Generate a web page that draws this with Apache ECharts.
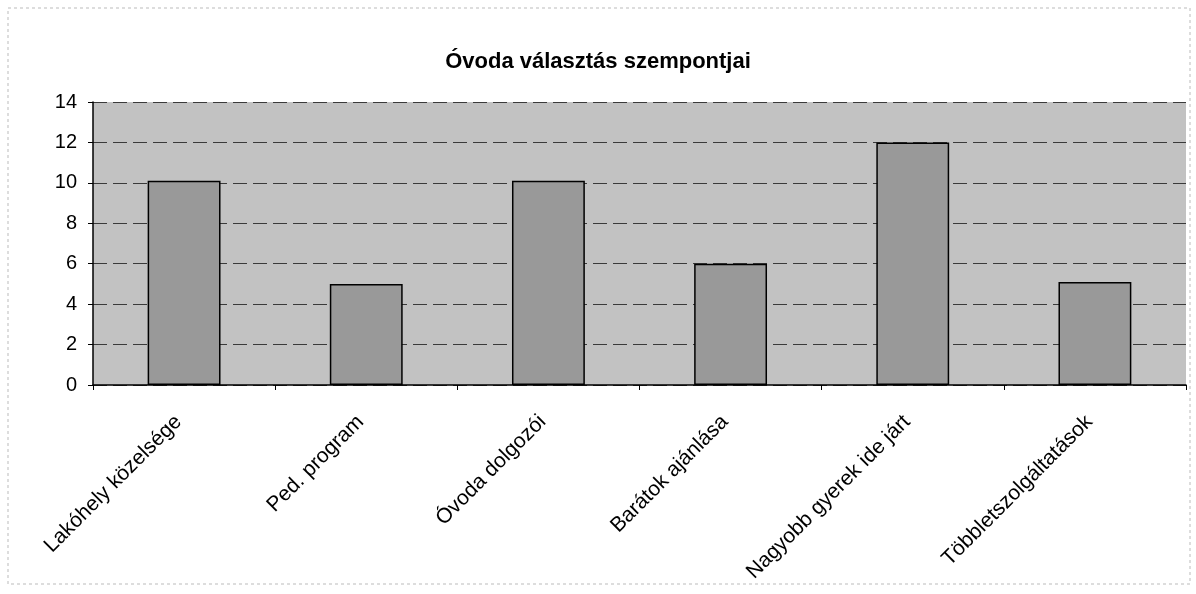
<!DOCTYPE html>
<html>
<head>
<meta charset="utf-8">
<script src="https://cdn.jsdelivr.net/npm/echarts@6/dist/echarts.min.js"></script>
<style>
html,body{margin:0;padding:0;background:#fff;}
#c{width:1196px;height:594px;}
</style>
</head>
<body>
<div id="c"></div>
<script>
const titleText = 'Óvoda választás szempontjai';
const categories = ['Lakóhely közelsége', 'Ped. program', 'Óvoda dolgozói', 'Barátok ajánlása', 'Nagyobb gyerek ide járt', 'Többletszolgáltatások'];
const values = [10.1, 5, 10.1, 6, 12, 5.1];
const yTicks = { min: 0, max: 14, interval: 2 };

const chart = echarts.init(document.getElementById('c'), null, { renderer: 'canvas' });
chart.setOption({
  animation: false,
  backgroundColor: '#ffffff',
  title: {
    text: titleText,
    left: 'center',
    top: 46,
    textStyle: { fontFamily: 'Liberation Sans, Arial, sans-serif', fontWeight: 'bold', fontSize: 22, color: '#000' }
  },
  graphic: [{
    type: 'rect',
    shape: { x: 8, y: 8, width: 1182, height: 576 },
    style: { fill: 'none', stroke: '#bbbbbb', lineWidth: 1, lineDash: [3, 3] },
    silent: true
  }],
  grid: { left: 93, right: 10, top: 102, bottom: 209, containLabel: false,
          show: true, backgroundColor: '#c2c2c2', borderWidth: 0 },
  xAxis: {
    type: 'category',
    data: categories,
    axisLine: { show: true, lineStyle: { color: '#000', width: 1.5 } },
    axisTick: { show: true, alignWithLabel: false, length: 5, lineStyle: { color: '#000' } },
    axisLabel: { rotate: 45, margin: 28, interval: 0, color: '#000', fontSize: 21,
                 padding: [0, 8, 0, 0],
                 fontFamily: 'Liberation Sans, Arial, sans-serif' },
    splitLine: { show: false }
  },
  yAxis: {
    type: 'value',
    min: yTicks.min, max: yTicks.max, interval: yTicks.interval,
    axisLine: { show: true, lineStyle: { color: '#000', width: 1.5 } },
    axisTick: { show: true, length: 5, lineStyle: { color: '#000' } },
    axisLabel: { color: '#000', fontSize: 20, margin: 16,
                 fontFamily: 'Liberation Sans, Arial, sans-serif' },
    splitLine: { show: true, lineStyle: { color: '#3a3a3a', width: 1, type: [14, 6] } }
  },
  series: [{
    type: 'bar',
    data: values,
    barWidth: '40%',
    itemStyle: { color: '#999999', borderColor: '#000', borderWidth: 1.5 }
  }]
});
</script>
</body>
</html>
